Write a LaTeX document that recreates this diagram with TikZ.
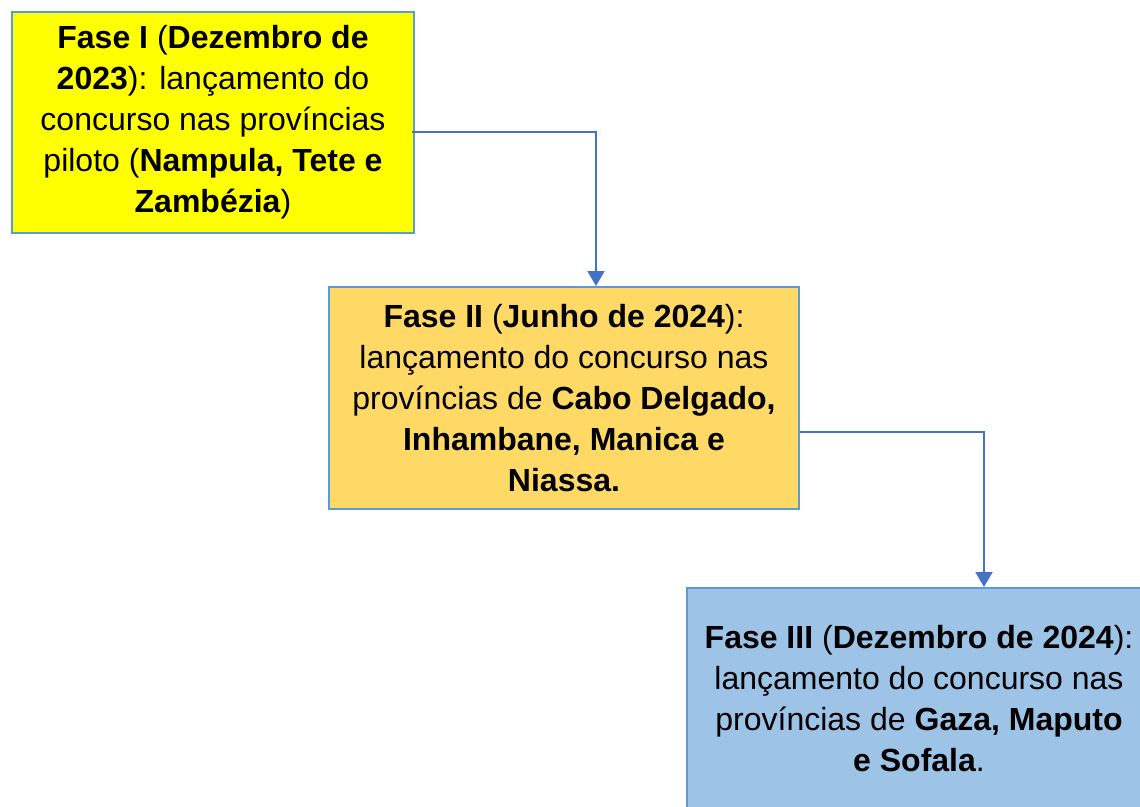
\documentclass[tikz,border=0pt]{standalone}
\usepackage{fontspec}
\setmainfont{Liberation Sans}
\usepackage{tikz}
\usetikzlibrary{positioning,calc,arrows.meta}
\definecolor{borda}{HTML}{5B9BD5}
\definecolor{linha}{HTML}{4472C4}
\definecolor{amarelo}{HTML}{FFFF00}
\definecolor{laranja}{HTML}{FFD966}
\definecolor{azul}{HTML}{9DC3E6}
\tikzstyle{fase} = [draw=borda, line width=2pt, rectangle, inner sep=0pt, align=center, font=\fontsize{32}{41}\selectfont]
\tikzstyle{seta} = [-{Triangle[width=17pt,length=15pt]}, draw=linha, line width=2pt]

\begin{document}
\begin{tikzpicture}[x=1pt, y=-1pt]
	\clip (0,0) rectangle (1140,806);
	\node (f1) [fase, fill=amarelo, minimum width=402pt, minimum height=221pt] at (213,122.5)
		{\textbf{Fase I} (\textbf{Dezembro de}\\ \textbf{2023}): lançamento do\\ concurso nas províncias\\ piloto (\textbf{Nampula, Tete e}\\ \textbf{Zambézia})};
	\node (f2) [fase, fill=laranja, minimum width=470pt, minimum height=222pt] at (564,398)
		{\textbf{Fase II} (\textbf{Junho de 2024}):\\ lançamento do concurso nas\\ províncias de \textbf{Cabo Delgado,}\\ \textbf{Inhambane, Manica e}\\ \textbf{Niassa.}};
	\node (f3) [fase, fill=azul, minimum width=464pt, minimum height=222pt] at (919,699)
		{\textbf{Fase III} (\textbf{Dezembro de 2024}):\\ lançamento do concurso nas\\ províncias de \textbf{Gaza, Maputo}\\ \textbf{e Sofala}.};
	\draw [seta] ([xshift=-3pt, yshift=-9.5pt]f1.east) -| ([xshift=32pt]f2.north);
	\draw [seta] ([yshift=-34pt]f2.east) -| ([xshift=65pt]f3.north);
\end{tikzpicture}
\end{document}
